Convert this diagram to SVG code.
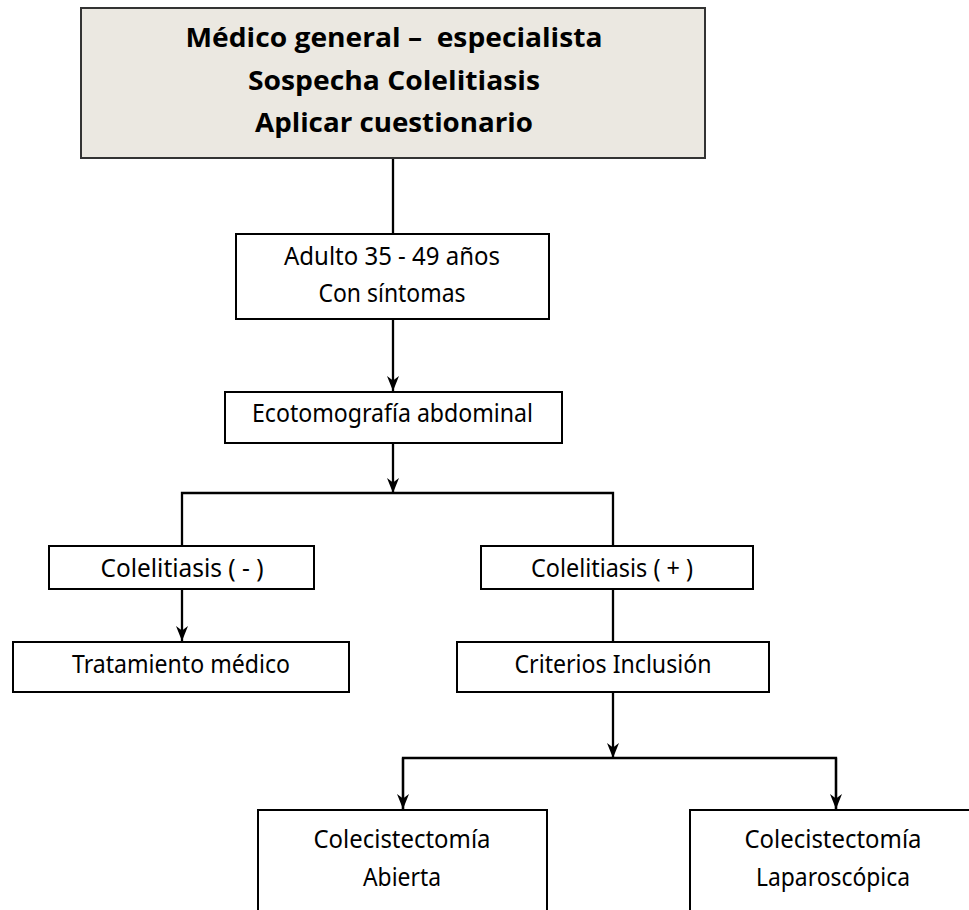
<svg xmlns="http://www.w3.org/2000/svg" width="969" height="910" viewBox="0 0 969 910">
<defs>
<marker id="arr" viewBox="0 0 15 12" refX="15" refY="6" markerWidth="15" markerHeight="12" markerUnits="userSpaceOnUse" orient="auto">
<path d="M0,0 L15,6 L0,12 L4.5,6 Z" fill="#000"/>
</marker>
<style>
.box{fill:#fff;stroke:#000;stroke-width:2}
.head{fill:#ebe8e1;stroke:#333;stroke-width:2}
.t{font-family:"Noto Sans","DejaVu Sans",sans-serif;font-size:25.5px;fill:#000;text-anchor:middle}
.h{font-family:"Open Sans","Noto Sans",sans-serif;font-size:27px;font-weight:bold;fill:#000;text-anchor:middle}
.c{fill:none;stroke:#000;stroke-width:2.3}
</style>
</defs>
<rect width="969" height="910" fill="#fff"/>
<g id="connectors">
<path class="c" d="M393,158 V234"/>
<path class="c" d="M393,319 V391" marker-end="url(#arr)"/>
<path class="c" d="M393,443 V493" marker-end="url(#arr)"/>
<path class="c" d="M182,546 V493 H613 V546"/>
<path class="c" d="M182,589 V641" marker-end="url(#arr)"/>
<path class="c" d="M613,589 V642"/>
<path class="c" d="M613,692 V758" marker-end="url(#arr)"/>
<path class="c" d="M403,809 V758 H836 V809"/>
<path class="c" d="M403,758 V809" marker-end="url(#arr)"/>
<path class="c" d="M836,758 V809" marker-end="url(#arr)"/>
</g>
<g id="n1">
<rect class="head" x="81" y="8" width="624" height="150"/>
<text class="h" x="394" y="47" textLength="417" lengthAdjust="spacingAndGlyphs">Médico general –&#160; especialista</text>
<text class="h" x="394" y="90" textLength="292" lengthAdjust="spacingAndGlyphs">Sospecha Colelitiasis</text>
<text class="h" x="394" y="132" textLength="278" lengthAdjust="spacingAndGlyphs">Aplicar cuestionario</text>
</g>
<g id="n2">
<rect class="box" x="236" y="234" width="313" height="85"/>
<text class="t" x="392" y="265" textLength="216" lengthAdjust="spacingAndGlyphs">Adulto 35 - 49 años</text>
<text class="t" x="392" y="302" textLength="147" lengthAdjust="spacingAndGlyphs">Con síntomas</text>
</g>
<g id="n3">
<rect class="box" x="225" y="392" width="337" height="51"/>
<text class="t" x="392.5" y="422" textLength="281" lengthAdjust="spacingAndGlyphs">Ecotomografía abdominal</text>
</g>
<g id="n4">
<rect class="box" x="49" y="546" width="265" height="43"/>
<text class="t" x="182" y="577" textLength="163" lengthAdjust="spacingAndGlyphs">Colelitiasis ( - )</text>
</g>
<g id="n5">
<rect class="box" x="481" y="546" width="272" height="43"/>
<text class="t" x="612" y="577" textLength="162" lengthAdjust="spacingAndGlyphs">Colelitiasis ( + )</text>
</g>
<g id="n6">
<rect class="box" x="13" y="642" width="336" height="50"/>
<text class="t" x="181" y="673" textLength="218" lengthAdjust="spacingAndGlyphs">Tratamiento médico</text>
</g>
<g id="n7">
<rect class="box" x="457" y="642" width="312" height="50"/>
<text class="t" x="613" y="673" textLength="197" lengthAdjust="spacingAndGlyphs">Criterios Inclusión</text>
</g>
<g id="n8">
<rect class="box" x="258" y="810" width="289" height="110"/>
<text class="t" x="402" y="848" textLength="177" lengthAdjust="spacingAndGlyphs">Colecistectomía</text>
<text class="t" x="402" y="886" textLength="78" lengthAdjust="spacingAndGlyphs">Abierta</text>
</g>
<g id="n9">
<rect class="box" x="690" y="810" width="290" height="110"/>
<text class="t" x="833" y="848" textLength="177" lengthAdjust="spacingAndGlyphs">Colecistectomía</text>
<text class="t" x="833" y="886" textLength="154" lengthAdjust="spacingAndGlyphs">Laparoscópica</text>
</g>
</svg>
